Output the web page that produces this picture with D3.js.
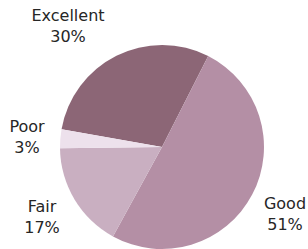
<!DOCTYPE html>
<html>
<head>
<meta charset="utf-8">
<script src="https://cdn.jsdelivr.net/npm/d3@7"></script>
<style>
  body { margin: 0; background: #fff; }
  text { font-family: "DejaVu Sans", Verdana, sans-serif; fill: #262626; }
</style>
</head>
<body>
<svg id="chart"></svg>
<script>
const W = 308, H = 249;

// data (clockwise from Excellent)
var categories = ["Excellent", "Good", "Fair", "Poor"];
var values = [30, 51, 17, 3];
var percentLabels = ["30%", "51%", "17%", "3%"];
var colors = ["#8c6676", "#b48fa5", "#c9afc1", "#ede1ec"];

// label anchor points (centre of the two text lines)
var labelPos = [[68, 31], [285, 219], [42, 222], [27, 142]];

var cx = 162, cy = 147, radius = 102;

var svg = d3.select("#chart")
    .attr("width", W)
    .attr("height", H);

var pie = d3.pie()
    .sort(null)
    .startAngle(-80 * Math.PI / 180)
    .endAngle(280 * Math.PI / 180);

var arc = d3.arc()
    .innerRadius(0)
    .outerRadius(radius);

var color = d3.scaleOrdinal()
    .domain(categories)
    .range(colors);

var g = svg.append("g")
    .attr("transform", "translate(" + cx + "," + cy + ")");

g.selectAll("path")
    .data(pie(values))
    .enter()
    .append("path")
    .attr("d", arc)
    .attr("fill", function (d, i) { return color(categories[i]) })
    .attr("stroke", "none");

// labels, two lines each
var labels = svg.selectAll("text.lbl")
    .data(categories)
    .enter()
    .append("text")
    .attr("class", "lbl")
    .attr("text-anchor", "middle")
    .attr("font-size", "16px");

labels.append("tspan")
    .attr("x", function (d, i) { return labelPos[i][0] })
    .attr("y", function (d, i) { return labelPos[i][1] - 10 })
    .text(function (d) { return d });

labels.append("tspan")
    .attr("x", function (d, i) { return labelPos[i][0] })
    .attr("y", function (d, i) { return labelPos[i][1] + 11 })
    .text(function (d, i) { return percentLabels[i] });
</script>
</body>
</html>
